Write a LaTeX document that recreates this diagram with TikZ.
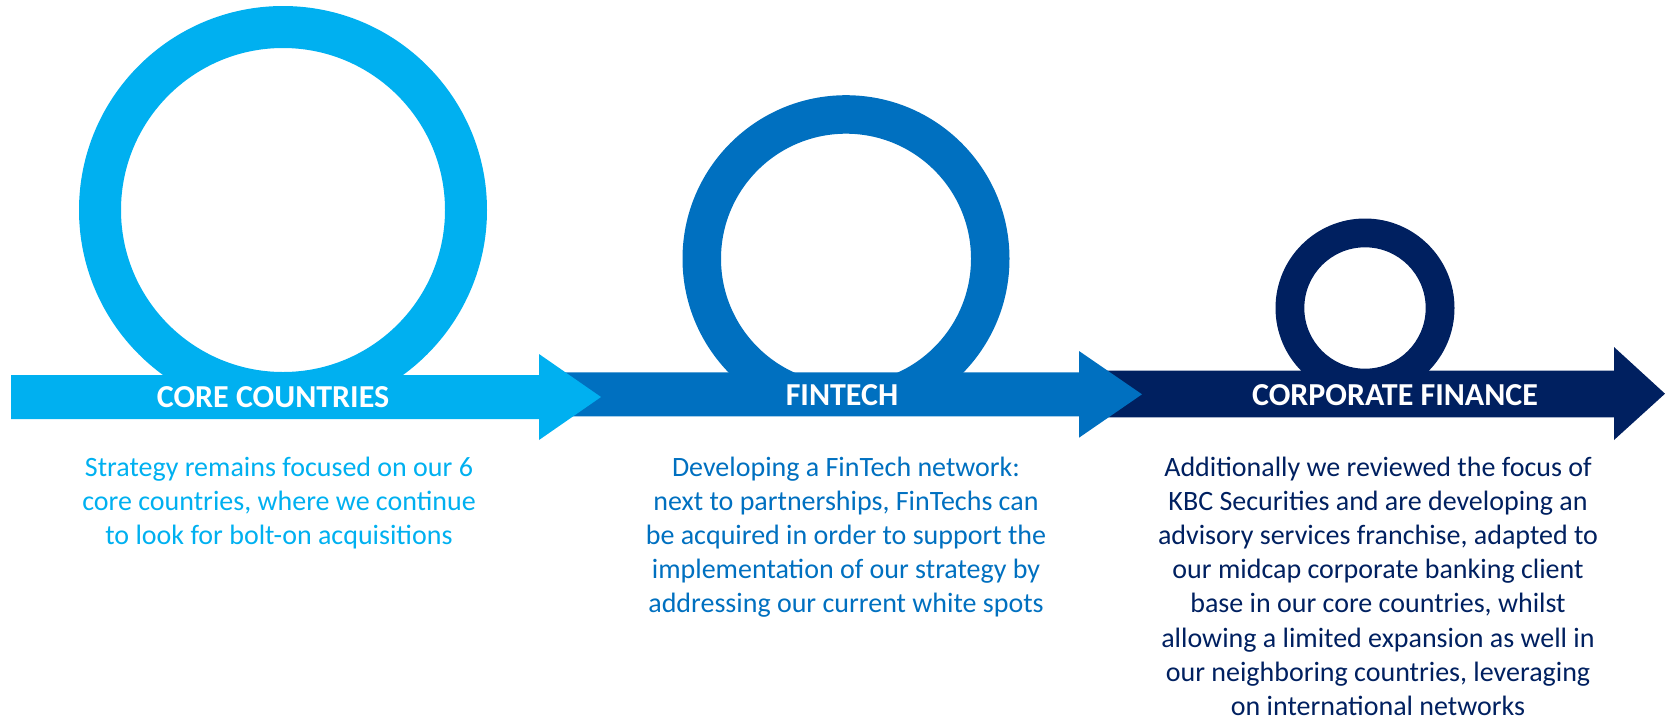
\documentclass[tikz,border=0pt]{standalone}
\usepackage{fontspec}
\setmainfont{Carlito}
\definecolor{cLight}{HTML}{00B0F0}
\definecolor{cMid}{HTML}{0070C0}
\definecolor{cDark}{HTML}{002060}
\begin{document}
\begin{tikzpicture}[x=1pt,y=-1pt,
  lbl/.style={text=white,font=\fontsize{32}{38}\selectfont\bfseries,inner sep=0pt},
  desc/.style={inner sep=0pt,anchor=base},
  ring/.style={even odd rule}]
\useasboundingbox (0,0) rectangle (1665,721);
% centres of the loops
\coordinate (c3) at (1365,308);
\coordinate (c2) at (846,258.7);
\coordinate (c1) at (283,210);
% arrow 3 (dark)
\fill[cDark] (1080,370.5) -- (1614,370.5) -- (1614,347) -- (1665,393.7) -- (1614,440) -- (1614,417.3) -- (1080,417.3) -- cycle;
\begin{scope}
  \clip (1200,100) rectangle (1530,394);
  \fill[cDark,ring] (c3) circle (89.5) (c3) circle (60.7);
\end{scope}
% arrow 2 (mid)
\fill[cMid] (540,372.3) -- (1079,372.3) -- (1079,351) -- (1142,394.3) -- (1079,437.7) -- (1079,416.3) -- (540,416.3) -- cycle;
\begin{scope}
  \clip (600,50) rectangle (1080,394);
  \fill[cMid,ring] (c2) circle (163.5) (c2) circle (125);
\end{scope}
% arrow 1 (light)
\fill[cLight] (11,375) -- (539,375) -- (539,354) -- (601,397) -- (539,440) -- (539,419) -- (11,419) -- cycle;
\begin{scope}
  \clip (50,0) rectangle (520,397);
  \fill[cLight,ring] (c1) circle (204) (c1) circle (162);
\end{scope}
% labels
\node[lbl] (core) at (273,397) {CORE COUNTRIES};
\node[lbl] (fin) at (842,395) {FINTECH};
\node[lbl] (corp) at (1395,395) {CORPORATE FINANCE};
% descriptions
\node[desc,text=cLight] (coretxt) at (279,476) {\parbox[t]{520pt}{\fontsize{28}{34.2}\selectfont\centering
Strategy remains focused on our 6\\
core countries, where we continue\\
to look for bolt-on acquisitions\par}};
\node[desc,text=cMid] (fintxt) at (846,476) {\parbox[t]{520pt}{\fontsize{28}{34.2}\selectfont\centering
Developing a FinTech network:\\
next to partnerships, FinTechs can\\
be acquired in order to support the\\
implementation of our strategy by\\
addressing our current white spots\par}};
\node[desc,text=cDark] (corptxt) at (1378,476) {\parbox[t]{520pt}{\fontsize{28}{34.2}\selectfont\centering
Additionally we reviewed the focus of\\
KBC Securities and are developing an\\
advisory services franchise, adapted to\\
our midcap corporate banking client\\
base in our core countries, whilst\\
allowing a limited expansion as well in\\
our neighboring countries, leveraging\\
on international networks\par}};
\end{tikzpicture}
\end{document}
